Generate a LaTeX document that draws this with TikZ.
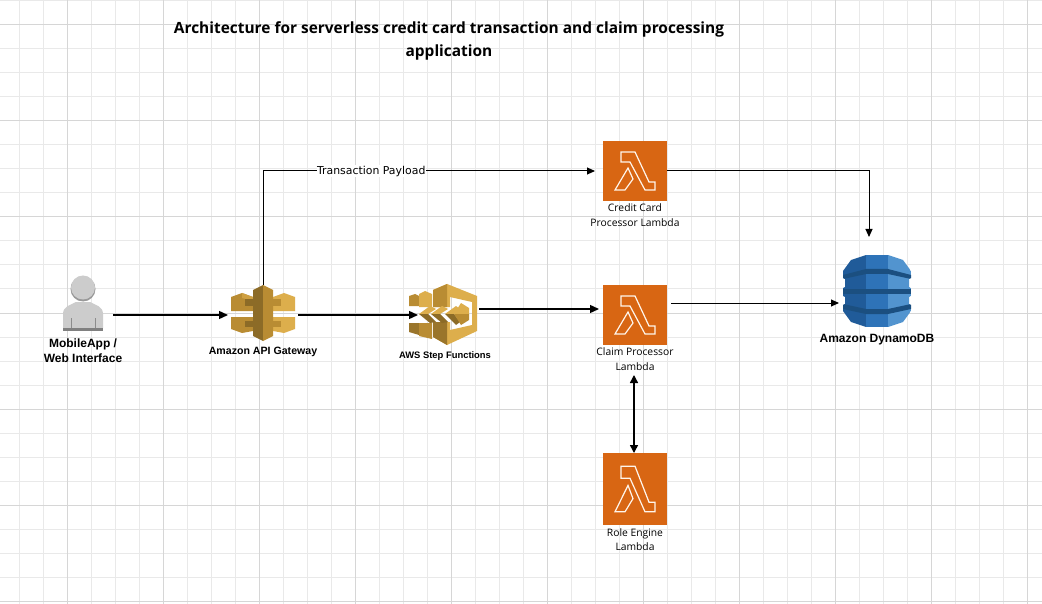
\documentclass[tikz,border=0pt]{standalone}
\usepackage{fontspec}
\setmainfont{Liberation Sans}
\newfontfamily\titlefont{Open Sans}
\newfontfamily\lamfont{Open Sans}
\newfontfamily\txfont{DejaVu Sans}
\usetikzlibrary{arrows.meta}
\definecolor{gridlight}{HTML}{E9E9E9}
\definecolor{griddark}{HTML}{D6D6D6}
\definecolor{lamorange}{HTML}{D86613}
\definecolor{goldA}{HTML}{DDAE4C}
\definecolor{goldB}{HTML}{B98C33}
\definecolor{goldC}{HTML}{8C6B27}
\definecolor{dynA}{HTML}{205B99}
\definecolor{dynB}{HTML}{2E73B8}
\definecolor{dynC}{HTML}{5294CF}
\definecolor{dynD}{HTML}{1B4F80}
\tikzset{
  x=1pt,y=-1pt,
  gridthin/.style={gridlight,line width=1pt},
  gridthick/.style={griddark,line width=1pt},
  iconbox/.style={inner sep=0pt,outer sep=0pt,draw=none},
  lambdabox/.style={iconbox,fill=lamorange,minimum width=64pt},
  glyph/.style={draw=white!92!orange,line width=1.2pt,line join=miter,fill=none},
  flow/.style={draw=black,line width=1pt,-{Triangle[length=8pt,width=7pt]}},
  flowb/.style={draw=black,line width=1.4pt,-{Triangle[length=9pt,width=8pt]}},
  txtcap/.style={inner sep=0pt,outer sep=0pt,align=center,text=black},
  boldcap/.style={txtcap,font=\fontsize{12}{15}\selectfont\bfseries},
  lamcap/.style={txtcap,font=\lamfont\fontsize{10.3}{14.5}\selectfont},
}
\newcommand{\lambdaglyph}[2]{%
  \begin{scope}[shift={(#1)},yscale=#2]
    \draw[glyph] (18,11)--(32,11)--(46,41)--(52,41)--(52,49)--(42,49)--(27,21)--(18,21)--cycle;
    \draw[glyph] (25,27)--(30,38)--(22,49)--(12,49)--cycle;
  \end{scope}}
\begin{document}
\begin{tikzpicture}
\useasboundingbox (0,0) rectangle (1042,604);
\fill[white] (0,0) rectangle (1042,604);
% grid
\foreach \i in {0,...,43}{\pgfmathsetmacro{\xx}{19+24*\i}\draw[gridthin] (\xx,0)--(\xx,604);}
\foreach \i in {0,...,25}{\pgfmathsetmacro{\yy}{1+24*\i}\draw[gridthin] (0,\yy)--(1042,\yy);}
\foreach \i in {0,...,10}{\pgfmathsetmacro{\xx}{67+96*\i}\draw[gridthick] (\xx,0)--(\xx,604);}
\foreach \i in {0,...,6}{\pgfmathsetmacro{\yy}{25+96*\i}\draw[gridthick] (0,\yy)--(1042,\yy);}
% title
\node[txtcap,font=\titlefont\fontsize{15.45}{23}\selectfont\bfseries] (title) at (449,41) {Architecture for serverless credit card transaction and claim processing\\application};
% user icon
\node[iconbox,minimum width=60pt,minimum height=56pt] (user) at (83,315) {};
\fill[black!40] (83,289) circle (12.5);
\fill[black!20] (83,287.5) circle (12);
\fill[black!20] (63,328)--(63,314) .. controls (63,306) and (71,305) .. (76,302) -- (90,302) .. controls (95,305) and (103,306) .. (103,314) -- (103,328) -- cycle;
\draw[black!45,line width=.7pt] (71,318)--(71,328) (95,318)--(95,328);
\fill[black!50] (63,328) rectangle (103,331);
% API gateway
\node[iconbox,minimum width=70pt,minimum height=60pt] (api) at (263,315) {};
\fill[goldB] (231,297)--(242,293)--(253,297)--(253,311)--(231,311)--cycle;
\fill[goldA!60!goldB] (242,293)--(253,297)--(253,301)--(242,298)--cycle;
\fill[goldC] (245,299) rectangle (253,306);
\fill[goldA] (295,297)--(284,293)--(273,297)--(273,311)--(295,311)--cycle;
\fill[goldB] (281,299) rectangle (273,306);
\fill[goldB] (231,317)--(253,317)--(253,331)--(242,333)--(231,329)--cycle;
\fill[goldC] (245,321) rectangle (253,327);
\fill[goldA] (295,317)--(273,317)--(273,331)--(284,333)--(295,329)--cycle;
\fill[goldB] (281,321) rectangle (273,327);
\fill[goldC] (253,290)--(263,285)--(263,341)--(253,336)--cycle;
\fill[goldB] (273,290)--(263,285)--(263,341)--(273,336)--cycle;
% Step functions
\node[iconbox,minimum width=61pt,minimum height=60pt] (sfn) at (448.5,315) {};
\fill[goldA] (433,290)--(447,284)--(477,296)--(477,331)--(447,345)--(433,337)--(433,322)--(450,322)--(450,330)--(472,325)--(472,302)--(450,297)--(450,307)--(433,307)--cycle;
\fill[goldB] (433,290)--(447,284)--(447,307)--(433,307)--cycle;
\fill[goldC!70!goldB] (433,322)--(447,322)--(447,345)--(433,337)--cycle;
\fill[goldB] (409,296)--(415,294)--(419,296)--(419,306)--(409,306)--cycle;
\fill[goldA] (419,294)--(425,291)--(432,294)--(432,307)--(419,307)--cycle;
\fill[goldC!70!goldB] (409,323)--(419,323)--(419,335)--(409,332)--cycle;
\fill[goldB] (419,323)--(432,323)--(432,339)--(419,336)--cycle;
\fill[goldA] (419,314)--(430,306)--(436,309)--(428,314)--cycle;
\fill[goldC] (419,314)--(428,314)--(436,322)--(430,323)--cycle;
\fill[goldA] (431,314)--(442,306)--(448,309)--(440,314)--cycle;
\fill[goldC] (431,314)--(440,314)--(448,322)--(442,323)--cycle;
\fill[goldA] (445,314)--(456,306)--(460,309)--(454,314)--cycle;
\fill[goldC] (445,314)--(454,314)--(460,322)--(456,325)--cycle;
\fill[goldA] (454,314)--(461,303)--(469,308)--(469,314)--cycle;
\fill[goldB] (454,314)--(469,314)--(469,320)--(461,325)--cycle;
% Lambda boxes
\node[lambdabox,minimum height=60pt] (lam1) at (635,171) {};
\node[lambdabox,minimum height=60pt] (lam2) at (635,315) {};
\node[lambdabox,minimum height=72pt] (role) at (635,489) {};
\lambdaglyph{603,141}{1}
\lambdaglyph{603,285}{1}
\lambdaglyph{603,453}{1.2}
% DynamoDB
\node[iconbox,minimum width=68pt,minimum height=72pt] (dyn) at (877,291) {};
\begin{scope}
\clip (843,271)--(851,260)--(866,255)--(888,255)--(903,260)--(911,271)--(911,278)--(909,279)--(909,287)--(911,288)--(911,296)--(909,297)--(909,304)--(911,305)--(911,311)--(903,322)--(888,327)--(866,327)--(851,322)--(843,311)--(843,305)--(845,304)--(845,297)--(843,296)--(843,288)--(845,287)--(845,279)--(843,278)--cycle;
\fill[dynA] (843,255) rectangle (866,327);
\fill[dynB] (866,255) rectangle (888,327);
\fill[dynC] (888,255) rectangle (911,327);
\fill[dynD] (843,275)--(866,269)--(888,269)--(911,275)--(911,279)--(888,274)--(866,274)--(843,279)--cycle;
\fill[dynD] (843,289) rectangle (911,294);
\fill[dynD] (843,304)--(866,309)--(888,309)--(911,304)--(911,309)--(888,314)--(866,314)--(843,309)--cycle;
\end{scope}
% captions
\node[boldcap] (userlab) at (83,351) {MobileApp /\\Web Interface};
\node[txtcap,font=\fontsize{10.6}{14}\selectfont\bfseries] (apilab) at (263,352) {Amazon API Gateway};
\node[txtcap,font=\fontsize{9.4}{11}\selectfont\bfseries] (sfnlab) at (445,356) {AWS Step Functions};
\node[lamcap] (lam1lab) at (635,215) {Credit Card\\Processor Lambda};
\node[lamcap] (lam2lab) at (635,359) {Claim Processor\\Lambda};
\node[lamcap] (rolelab) at (635,539.5) {Role Engine\\Lambda};
\node[boldcap] (dynlab) at (877,339.5) {Amazon DynamoDB};
% connectors
\draw[flowb] (user.east) -- (api.west);
\draw[flowb] (api.east) -- (sfn.west);
\draw[flow] (api.north) |- ([xshift=-8pt]lam1.west)
  node[pos=0.663,fill=white,inner xsep=0.5pt,inner ysep=1pt,font=\txfont\fontsize{10.9}{12}\selectfont] (txlab) {Transaction Payload};
\draw[flowb] ([yshift=6pt]sfn.east) -- ([xshift=-4pt,yshift=6pt]lam2.west);
\draw[flow] ([xshift=4pt,yshift=12pt]lam2.east) -- ([xshift=-4pt,yshift=-12pt]dyn.west);
\draw[flow] (lam1.east) -| ([xshift=-8pt,yshift=18pt]dyn.north);
\draw[draw=black,line width=1.4pt,{Triangle[length=8pt,width=8pt]}-{Triangle[length=8pt,width=8pt]}] ([xshift=-1pt,yshift=-30pt]lam2.south) -- ([xshift=-1pt]role.north);
\end{tikzpicture}
\end{document}
